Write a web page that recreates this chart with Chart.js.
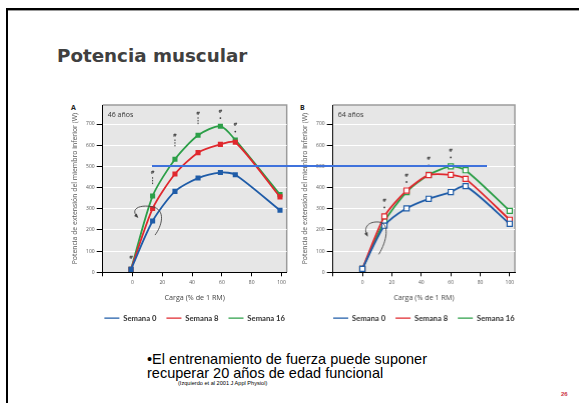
<!DOCTYPE html>
<html>
<head>
<meta charset="utf-8">
<script src="https://cdn.jsdelivr.net/npm/chart.js@4/dist/chart.umd.min.js"></script>
<style>
  body { margin: 0; width: 579px; height: 403px; background: #fff; position: relative; overflow: hidden; font-family: "Liberation Sans", Arial, sans-serif; }
  .frame { position: absolute; left: 6px; top: 8px; width: 600px; height: 420px; border-top: 2px solid #000; border-left: 2px solid #000; }
  .frame2 { position: absolute; left: 8px; top: 10px; width: 600px; height: 420px; border-top: 1px solid #999; }
  .title { position: absolute; left: 57px; top: 45px; font: bold 18.3px "DejaVu Sans", sans-serif; color: #404040; }
  .panel { position: absolute; font: bold 7px "Open Sans", sans-serif; color: #222; }
  .box { position: absolute; }
  .hline { position: absolute; left: 152px; top: 165px; width: 335px; height: 2px; background: #3f72dc; }
  .text { position: absolute; left: 147px; top: 352px; font-size: 14.5px; line-height: 14px; color: #000; }
  .cite { position: absolute; left: 178px; top: 380px; font-size: 5.6px; color: #000; }
  .page { position: absolute; left: 561px; top: 391px; font: bold 6px "Liberation Sans", sans-serif; color: #cc3344; }
</style>
</head>
<body>
<div class="frame"></div>
<div class="frame2"></div>
<div class="title">Potencia muscular</div>
<div class="panel" style="left:71px;top:103px">A</div>
<div class="panel" style="left:300px;top:103px">B</div>
<div class="box" style="left:60px;top:98px;width:269.4px;height:234px"><canvas id="chartA"></canvas></div>
<div class="box" style="left:290px;top:98px;width:266.7px;height:234px"><canvas id="chartB"></canvas></div>
<div class="hline"></div>
<div class="text">•El entrenamiento de fuerza puede suponer<br>recuperar 20 años de edad funcional</div>
<div class="cite">(Izquierdo et al 2001 J Appl Physiol)</div>
<div class="page">26</div>

<script>
// Series names
const seriesNames = ["Semana 0", "Semana 8", "Semana 16"];
const seriesColors = ["#1f5ca8", "#e0282e", "#2c9f48"];

// Panel A - 46 años (carga in % of 1 RM, potencia in W)
const cargaA = [-1, 13.5, 28.5, 44, 59, 69, 99];
const sem0A = [14, 242, 382, 445, 471, 461, 293];
const sem8A = [14, 301, 464, 565, 604, 614, 356];
const sem16A = [14, 360, 534, 647, 690, 625, 367];

// Panel B - 64 años
const cargaB = [0, 15, 30, 45, 60, 70, 100];
const sem0B = [16, 220, 302, 347, 379, 407, 229];
const sem8B = [16, 264, 386, 459, 460, 441, 248];
const sem16B = [16, 240, 379, 460, 500, 482, 290];

// Significance marks above the points: x, y of the "#", second symbol
const marksAx = [-1, 13.5, 28.5, 44, 59, 69];
const marksAy = [67, 468, 646, 751, 759, 695];
const marksAk = ["", "dash", "dash", "dash", "dot", "dot"];
const marksBx = [15, 30, 45, 60];
const marksBy = [337, 457, 535, 573];
const marksBk = ["dot", "dot", "dot", "dot"];

// Tick labels
const xTicks = [0, 20, 40, 60, 80, 100];
const yTicks = [0, 100, 200, 300, 400, 500, 600, 700];

function toPoints(xs, ys) {
  return xs.map((x, i) => ({ x: x, y: ys[i] }));
}

// gray plot background + frame on top/right
const plotBg = {
  id: "plotBg",
  beforeDraw(chart) {
    const a = chart.chartArea, ctx = chart.ctx;
    ctx.save();
    ctx.fillStyle = "#e6e6e6";
    ctx.fillRect(a.left, a.top, a.right - a.left, a.bottom - a.top);
    ctx.strokeStyle = "#9c9c9c";
    ctx.lineWidth = 1.5;
    ctx.beginPath();
    ctx.moveTo(a.left, a.top);
    ctx.lineTo(a.right, a.top);
    ctx.lineTo(a.right, a.bottom);
    ctx.stroke();
    ctx.restore();
  }
};

function makeExtras(label, mx, my, mk, arrowAnchor, arrow) {
  return {
    id: "extras",
    afterDatasetsDraw(chart) {
      const ctx = chart.ctx, sx = chart.scales.x, sy = chart.scales.y, a = chart.chartArea;
      ctx.save();
      // age label
      ctx.fillStyle = "#333";
      ctx.font = "7px 'Open Sans', sans-serif";
      ctx.textBaseline = "middle";
      ctx.fillText(label, a.left + 5, a.top + 10);
      // marks
      ctx.textAlign = "center";
      ctx.font = "bold 5px 'DejaVu Sans', sans-serif";
      ctx.fillStyle = "#3a3a3a";
      ctx.strokeStyle = "#3a3a3a";
      for (let i = 0; i < mx.length; i++) {
        const px = sx.getPixelForValue(mx[i]);
        const py = sy.getPixelForValue(my[i]);
        ctx.fillText("#", px, py);
        if (mk[i] === "dot") {
          ctx.beginPath();
          ctx.arc(px, py + 6.5, 0.9, 0, Math.PI * 2);
          ctx.fill();
        } else if (mk[i] === "dash") {
          ctx.lineWidth = 1;
          ctx.setLineDash([1.5, 1.2]);
          ctx.beginPath();
          ctx.moveTo(px, py + 4);
          ctx.lineTo(px, py + 11);
          ctx.stroke();
          ctx.setLineDash([]);
        }
      }
      // curved arrow
      const ax = sx.getPixelForValue(arrowAnchor[0]);
      const ay = sy.getPixelForValue(arrowAnchor[1]);
      const p = arrow.map(q => [ax + q[0], ay + q[1]]);
      ctx.strokeStyle = "#444";
      ctx.lineWidth = 0.9;
      ctx.beginPath();
      ctx.moveTo(p[0][0], p[0][1]);
      ctx.bezierCurveTo(p[1][0], p[1][1], p[2][0], p[2][1], p[3][0], p[3][1]);
      ctx.bezierCurveTo(p[4][0], p[4][1], p[5][0], p[5][1], p[6][0], p[6][1]);
      ctx.stroke();
      const ang = Math.atan2(p[6][1] - p[5][1], p[6][0] - p[5][0]);
      ctx.fillStyle = "#444";
      ctx.beginPath();
      ctx.moveTo(p[6][0] + 2 * Math.cos(ang), p[6][1] + 2 * Math.sin(ang));
      ctx.lineTo(p[6][0] + 3 * Math.cos(ang + 2.5), p[6][1] + 3 * Math.sin(ang + 2.5));
      ctx.lineTo(p[6][0] + 3 * Math.cos(ang - 2.5), p[6][1] + 3 * Math.sin(ang - 2.5));
      ctx.closePath();
      ctx.fill();
      ctx.restore();
    }
  };
}

function makeChart(id, xs, s0, s8, s16, hollow, extras) {
  const all = [s0, s8, s16];
  const datasets = all.map((ys, i) => ({
    label: seriesNames[i],
    data: toPoints(xs, ys),
    borderColor: seriesColors[i],
    backgroundColor: seriesColors[i],
    borderWidth: 1.8,
    pointStyle: "rect",
    pointRadius: 3.6,
    pointBorderWidth: hollow ? 1.2 : 0,
    pointBackgroundColor: hollow ? "#fff" : seriesColors[i],
    pointBorderColor: seriesColors[i],
    tension: 0.25
  }));

  return new Chart(document.getElementById(id), {
    type: "line",
    data: { datasets: datasets },
    options: {
      responsive: true,
      maintainAspectRatio: false,
      animation: false,
      layout: { padding: { top: 7, right: 0, left: 0, bottom: 0 } },
      scales: {
        x: {
          type: "linear",
          min: -20,
          max: 103.5,
          afterBuildTicks(scale) {
            scale.ticks = [-20].concat(xTicks).map(v => ({ value: v }));
          },
          ticks: {
            font: { size: 5, family: "'Open Sans', sans-serif" },
            color: "#555",
            padding: 3.5,
            maxRotation: 0,
            callback: v => (v < 0 ? "" : v)
          },
          grid: { drawOnChartArea: false, tickColor: "#000", tickLength: 4 },
          border: { color: "#000", width: 1 },
          title: {
            display: true,
            text: "Carga (% de 1 RM)",
            font: { size: 7.2, family: "'Open Sans', sans-serif" },
            color: "#444",
            padding: { top: 0, bottom: 2.5 }
          },
          afterFit(scale) { scale.height = 32; }
        },
        y: {
          type: "linear",
          min: 0,
          max: 790,
          afterBuildTicks(scale) {
            scale.ticks = yTicks.map(v => ({ value: v }));
          },
          ticks: {
            font: { size: 5, family: "'Open Sans', sans-serif" },
            color: "#555",
            padding: 2
          },
          grid: { color: "#ffffff", lineWidth: 1, tickColor: "#000", tickLength: 6 },
          border: { color: "#000", width: 1 },
          title: {
            display: true,
            text: "Potencia de extensión del miembro inferior (W)",
            font: { size: 6.9, family: "'Open Sans', sans-serif" },
            color: "#555",
            padding: { top: 11, bottom: 0 }
          },
          afterFit(scale) { scale.width = 42.7; }
        },
        // empty right axis so the legend and axis title center on the plot
        y2: {
          type: "linear",
          position: "right",
          min: 0,
          max: 1,
          ticks: { display: false },
          grid: { display: false },
          border: { display: false },
          afterFit(scale) { scale.width = 42.7; }
        }
      },
      plugins: {
        legend: {
          position: "bottom",
          labels: {
            usePointStyle: true,
            pointStyle: "line",
            pointStyleWidth: 15,
            padding: 10,
            color: "#333",
            font: { size: 7.7, weight: "bold", family: "Lato, sans-serif" },
            generateLabels(chart) {
              const items = Chart.defaults.plugins.legend.labels.generateLabels(chart);
              items.forEach((it, i) => { it.lineWidth = 1.4; it.strokeStyle = seriesColors[i]; });
              return items;
            }
          }
        },
        tooltip: { enabled: false }
      }
    },
    plugins: [plotBg, extras]
  });
}

makeChart("chartA", cargaA, sem0A, sem8A, sem16A, false,
  makeExtras("46 años", marksAx, marksAy, marksAk, [13.5, 250],
    [[2.4, 15.7], [8.7, 7.7], [14.7, -10.3], [-1.3, -12.8], [-13.3, -14.8], [-22.3, -10.3], [-15.6, -2.8]]));

makeChart("chartB", cargaB, sem0B, sem8B, sem16B, true,
  makeExtras("64 años", marksBx, marksBy, marksBk, [15, 250],
    [[-5.7, 35], [2.6, 21.7], [5.6, 3.7], [-5.4, 2.7], [-15.4, 1.7], [-21.4, 7.7], [-17.4, 15.7]]));
</script>
</body>
</html>
